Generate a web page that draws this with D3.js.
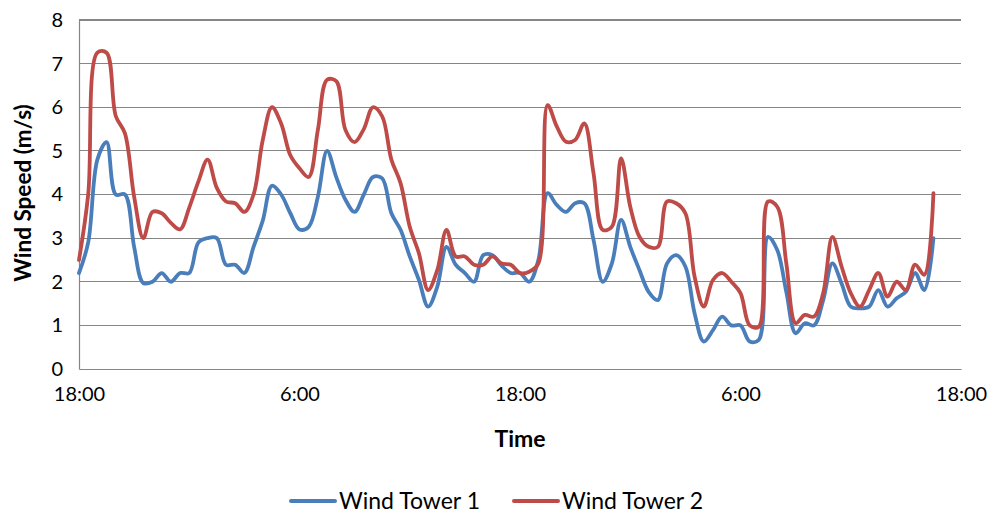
<!DOCTYPE html>
<html><head><meta charset="utf-8">
<script src="https://cdn.jsdelivr.net/npm/d3@7/dist/d3.min.js"></script>
<style>
html,body{margin:0;padding:0;background:#fff;}
svg{display:block;font-family:Lato,"Open Sans",sans-serif;}
</style></head>
<body><svg id="c" width="995" height="516"></svg>
<script>
// half-hour steps starting at 18:00
const xTickPos = [0, 24, 48, 72, 96];
const xTickLabels = ["18:00", "6:00", "18:00", "6:00", "18:00"];
const yTicks = [0, 1, 2, 3, 4, 5, 6, 7, 8];
const seriesNames = ["Wind Tower 1", "Wind Tower 2"];
const tower1 = [2.2, 2.9, 4.8, 5.2, 4.0, 4.0, 2.8, 1.97, 2.0, 2.2, 2.0, 2.2, 2.2, 2.9, 3.0, 3.0,
  2.39, 2.39, 2.2, 2.8, 3.4, 4.2, 4.0, 3.57, 3.2, 3.26, 3.95, 5.0, 4.4, 3.88, 3.6, 4.0,
  4.4, 4.37, 3.57, 3.19, 2.58, 2.04, 1.43, 1.89, 2.8, 2.39, 2.2, 2.0, 2.61, 2.61, 2.37,
  2.2, 2.2, 2.0, 2.5, 4.03, 3.76, 3.6, 3.8, 3.8, 2.96, 2.0, 2.42, 3.42, 2.8, 2.27, 1.77,
  1.58, 2.42, 2.61, 2.35, 1.28, 0.63, 0.89, 1.2, 1.0, 1.0, 0.63, 0.67, 3.03, 2.73, 1.75,
  0.82, 1.05, 1.0, 1.58, 2.42, 1.96, 1.43, 1.39, 1.43, 1.81, 1.43, 1.62, 1.77, 2.2, 1.81, 3.0];
const tower2 = [2.5, 4.0, 7.25, 7.25, 5.8, 5.4, 3.95, 3.0, 3.6, 3.57, 3.35, 3.2, 3.7, 4.3, 4.8, 4.15,
  3.84, 3.8, 3.6, 4.0, 5.25, 6.0, 5.63, 4.9, 4.6, 4.4, 5.48, 6.63, 6.6, 5.48, 5.2, 5.5,
  6.0, 5.79, 4.8, 4.26, 3.26, 2.65, 1.81, 2.27, 3.19, 2.58, 2.58, 2.39, 2.39, 2.58, 2.42,
  2.39, 2.2, 2.23, 2.42, 6.05, 5.56, 5.21, 5.25, 5.63, 4.49, 3.19, 3.26, 4.83, 3.72, 3.03, 2.8,
  2.8, 3.84, 3.8, 3.57, 2.12, 1.43, 2.04, 2.2, 2.0, 1.74, 1.0, 0.97, 3.84, 3.72, 2.4,
  1.05, 1.24, 1.2, 1.74, 3.03, 2.35, 1.74, 1.43, 1.81, 2.2, 1.66, 2.0, 1.81, 2.39, 2.16, 4.03];
const colors = ["#4A7EBB", "#BE4B48"];

const svg = d3.select("#c");
const L = 79, R = 961, T = 20, B = 369;
const x = d3.scaleLinear().domain([0, 96]).range([L, R]);
const y = d3.scaleLinear().domain([0, 8]).range([B, T]);

// gridlines
svg.append("g").selectAll("line").data(yTicks.slice(1)).join("line")
  .attr("x1", L).attr("x2", R).attr("y1", d => y(d)).attr("y2", d => y(d))
  .attr("stroke", "#868686").attr("stroke-width", 1.2).attr("shape-rendering", "crispEdges");

// axes
const yAxis = d3.axisLeft(y).tickValues(yTicks).tickSize(0).tickPadding(16).tickFormat(d3.format("d"));
const gy = svg.append("g").attr("transform", `translate(${L},0)`).call(yAxis);
gy.select(".domain").attr("stroke", "#868686").attr("stroke-width", 1.2);
gy.selectAll("text").attr("font-size", 20).attr("fill", "#000").attr("font-family", "Lato");

const xAxis = d3.axisBottom(x).tickValues(xTickPos).tickSize(0).tickPadding(18)
  .tickFormat((d, i) => xTickLabels[i]);
const gx = svg.append("g").attr("transform", `translate(0,${B})`).call(xAxis);
gx.select(".domain").attr("stroke", "#868686").attr("stroke-width", 1.2);
gx.selectAll("text").attr("font-size", 20).attr("fill", "#000").attr("font-family", "Lato");

// lines
const line = d3.line().x((d, i) => x(i)).y(d => y(d)).curve(d3.curveCatmullRom.alpha(0.5));
[tower1, tower2].forEach((s, k) => {
  svg.append("path").datum(s).attr("d", line).attr("fill", "none")
    .attr("stroke", colors[k]).attr("stroke-width", 3.8)
    .attr("stroke-linejoin", "round").attr("stroke-linecap", "round");
});

// titles
svg.append("text").attr("x", 520).attr("y", 447).attr("text-anchor", "middle")
  .attr("font-size", 23).attr("font-weight", "bold").text("Time");
svg.append("text").attr("transform", "translate(31,193) rotate(-90)").attr("text-anchor", "middle")
  .attr("font-size", 22.5).attr("font-weight", "bold").text("Wind Speed (m/s)");

// legend
const leg = [{x: 291}, {x: 514}];
seriesNames.forEach((n, k) => {
  const g = svg.append("g").attr("transform", `translate(${leg[k].x},501)`);
  g.append("line").attr("x1", 0).attr("x2", 44).attr("y1", 0).attr("y2", 0)
    .attr("stroke", colors[k]).attr("stroke-width", 4).attr("stroke-linecap", "round");
  g.append("text").attr("x", 48).attr("y", 8).attr("font-size", 23).text(n);
});
</script></body></html>
